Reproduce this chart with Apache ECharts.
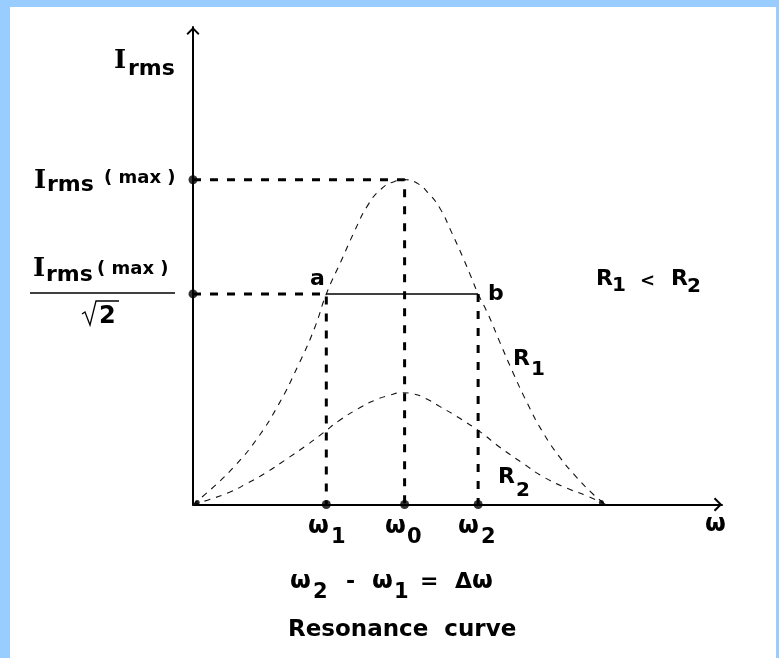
<!DOCTYPE html>
<html>
<head>
<meta charset="utf-8">
<script src="https://cdn.jsdelivr.net/npm/echarts@6/dist/echarts.min.js"></script>
<style>
  html, body { margin:0; padding:0; width:779px; height:658px; background:#99ccff; overflow:hidden; }
  #paper { position:absolute; left:10px; top:7px; width:766px; height:651px; background:#ffffff; }
  #chart { position:absolute; left:0; top:0; width:779px; height:658px; }
</style>
</head>
<body>
<div id="paper"></div>
<div id="chart"></div>
<script>
// ---- data (x: ω in arbitrary units, y: Irms in arbitrary units) ----
const axisMaxX = 100;
const axisMaxY = 100;
const omegaMarks = [25.2, 40.0, 53.9];          // ω1, ω0, ω2
const currentLevels = [68.0, 44.1];             // Irms(max), Irms(max)/√2
const curveEnd = [78.0];                        // where both curves return to zero
const r1Curve = [
  [0,0],[4,3.8],[8,8.2],[12,13.6],[16,20.6],[20,29.4],[23,37.0],[25.2,44.1],[28,51.0],
  [30.6,57.4],[33,62.6],[35.5,66.0],[38,67.6],[40.3,68.0],[42.5,67.2],[44.5,65.2],
  [46.7,62.0],[48.8,57.2],[51,51.8],[52.6,47.6],[53.9,44.1],[55.8,39.8],[58,34.0],
  [60.5,27.6],[63.2,21.2],[66.2,15.0],[69.4,9.8],[72.6,5.6],[75.6,2.2],[78,0]
];
const r2Curve = [
  [0,0],[3,1.0],[7,2.6],[10.2,4.4],[14,6.8],[17.8,9.6],[21.6,12.5],[24.6,15.0],
  [27.8,17.7],[31.6,20.3],[34.5,21.9],[37.2,22.9],[39.5,23.4],[41.5,23.2],[44,22.2],
  [46.7,20.5],[50.5,18.0],[54.3,15.2],[58,12.0],[62.4,8.6],[66.2,5.8],[70.7,3.4],
  [74.5,1.8],[78,0]
];

// ---- build chart ----
const [w1, w0, w2] = omegaMarks;
const [iMax, iHalf] = currentLevels;
const chart = echarts.init(document.getElementById('chart'), null, { renderer: 'canvas' });

const chevron = 'path://M7,0 L14,7 L12.6,8.4 L7,2.8 L1.4,8.4 L0,7 Z';
function axis(max, size) {
  return {
    type: 'value', min: 0, max: max,
    axisLine: { show: true, onZero: false, lineStyle: { color: '#000', width: 2 },
      symbol: ['none', chevron], symbolSize: size, symbolOffset: [0, -4] },
    axisTick: { show: false }, axisLabel: { show: false }, splitLine: { show: false }
  };
}
const thickDash = { color: '#000', width: 3, type: [8, 9] };
const curveDash = { color: '#111', width: 1.1, type: [6, 6] };

function lineSeries(data, style, smooth) {
  return { type: 'line', data: data, symbol: 'none', smooth: smooth || false, clip: false,
    lineStyle: style, silent: true, z: 3 };
}

const S = '"DejaVu Sans"';
function T(left, baseline, text, size, opt) {
  opt = opt || {};
  const fam = opt.serif ? '"DejaVu Serif"' : S;
  const weight = opt.weight || 'bold';
  return { type: 'text', x: left, y: baseline - 0.34 * size, silent: true, z: 10,
    style: { text: text, font: weight + ' ' + size + 'px ' + fam, fill: '#000',
      align: 'left', verticalAlign: 'middle' } };
}
const graphics = [
  // I_rms axis title
  T(114, 70, 'I', 26, { serif: true }), T(128, 77, 'rms', 22),
  // I_rms(max)
  T(34, 190, 'I', 26, { serif: true }), T(47, 193, 'rms', 22), T(104, 184, '( max )', 18),
  // fraction
  T(33, 278, 'I', 26, { serif: true }), T(46, 283, 'rms', 22), T(97, 275, '( max )', 18),
  { type: 'line', silent: true, shape: { x1: 30, y1: 293, x2: 175, y2: 293 }, style: { stroke: '#000', lineWidth: 1.5 } },
  { type: 'polyline', silent: true, shape: { points: [[82, 314], [85, 312], [90, 325], [96, 301], [119, 301]] },
    style: { stroke: '#000', lineWidth: 1.3, fill: null } },
  T(99, 325, '2', 24),
  // a, b
  T(310, 287, 'a', 22), T(488, 302, 'b', 22),
  // R1, R2 next to curves
  T(513, 367, 'R', 22), T(531, 377, '1', 20),
  T(498, 485, 'R', 22), T(516, 498, '2', 20),
  // R1 < R2
  T(596, 287, 'R', 22), T(612, 293, '1', 20), T(640, 287, '<', 18),
  T(671, 287, 'R', 22), T(687, 294, '2', 20),
  // omega ticks
  T(308, 535, 'ω', 24), T(331, 545, '1', 21),
  T(385, 535, 'ω', 24), T(407, 545, '0', 21),
  T(458, 535, 'ω', 24), T(481, 545, '2', 21),
  T(705, 533, 'ω', 24),
  // equation
  T(290, 590, 'ω', 24), T(313, 600, '2', 21), T(346, 590, '-', 22),
  T(372, 590, 'ω', 24), T(394, 600, '1', 21), T(420, 590, '=', 22),
  T(455, 590, 'Δ', 22), T(472, 590, 'ω', 24),
  // caption
  T(288, 638, 'Resonance  curve', 23)
];

chart.setOption({
  animation: false,
  backgroundColor: 'transparent',
  grid: { left: 193, right: 57, top: 27, bottom: 153.5, containLabel: false },
  xAxis: axis(axisMaxX, [14, 8.4]),
  yAxis: axis(axisMaxY, [13, 7.8]),
  series: [
    lineSeries(r1Curve, curveDash, 0.5),
    lineSeries(r2Curve, curveDash, 0.5),
    lineSeries([[0, iMax], [w0, iMax], [w0, 0]], thickDash),
    lineSeries([[0, iHalf], [w1, iHalf], [w1, 0]], thickDash),
    lineSeries([[w2, iHalf], [w2, 0]], thickDash),
    lineSeries([[w1, iHalf], [w2, iHalf]], { color: '#000', width: 1.5, type: 'solid' }),
    { type: 'scatter', silent: true, clip: false, symbol: 'circle', symbolSize: 9, z: 5,
      itemStyle: { color: '#000' },
      data: [[0, iMax], [0, iHalf]].concat(omegaMarks.map(w => [w, 0])) },
    { type: 'scatter', silent: true, clip: false, symbol: 'circle', symbolSize: 5, z: 5,
      itemStyle: { color: '#000' },
      data: [[0.8, 0.4], [curveEnd[0] - 0.8, 0.4]] }
  ],
  graphic: graphics
});
</script>
</body>
</html>
